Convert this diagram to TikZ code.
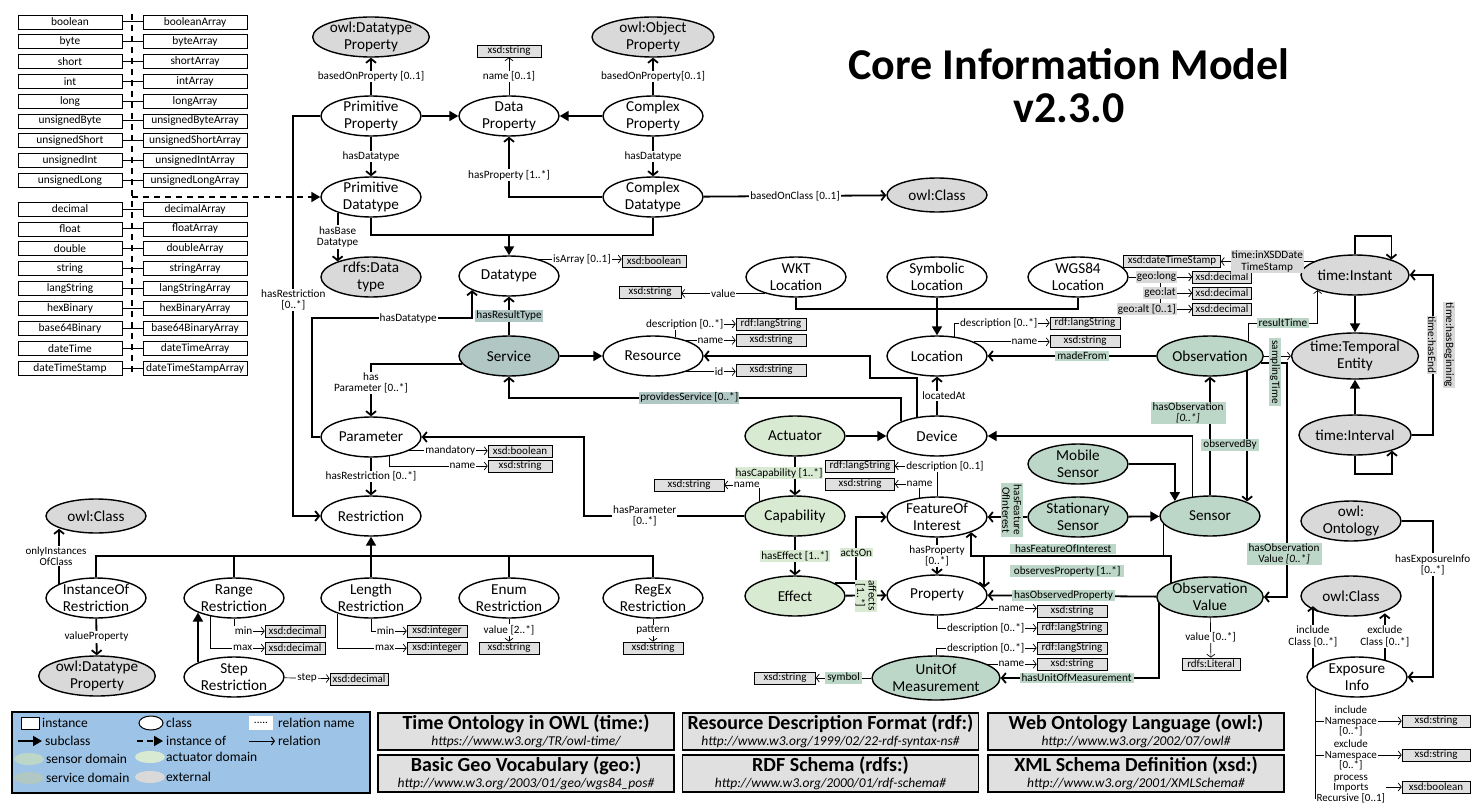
\documentclass[tikz,border=0pt]{standalone}
\usepackage{fontspec}
\setmainfont{Carlito}
\usepackage{tikz}
\usetikzlibrary{shapes.geometric, arrows.meta, calc, positioning}

\definecolor{extgray}{RGB}{217,217,217}
\definecolor{boxgray}{RGB}{224,224,224}
\definecolor{sensgreen}{RGB}{188,214,200}
\definecolor{actgreen}{RGB}{217,234,211}
\definecolor{servteal}{RGB}{176,199,196}
\definecolor{legblue}{RGB}{157,195,230}

\newcommand\clsfont{\fontsize{15.2}{17}\selectfont}
\newcommand\lblfont{\fontsize{11.2}{11.5}\selectfont}
\newcommand\nsfont{\fontsize{11}{10.2}\selectfont}
\newcommand\boxfont{\fontsize{11}{12}\selectfont}
\newcommand\typfont{\fontsize{11.4}{12}\selectfont}
\newcommand\legfont{\fontsize{13.5}{14}\selectfont}
\newcommand\reftitle[1]{{\fontsize{20}{16}\selectfont\bfseries #1}}
\newcommand\refurl[1]{{\fontsize{13.5}{16}\selectfont\itshape #1}}

\begin{document}
\begin{tikzpicture}[x=1pt, y=-1pt,
    cls/.style={ellipse, draw, line width=1.4pt, fill=white, minimum width=100pt,
        minimum height=40pt, inner xsep=0pt, inner ysep=-2pt, align=center, font=\clsfont},
    ext/.style={cls, fill=extgray},
    sens/.style={cls, fill=sensgreen},
    actr/.style={cls, fill=actgreen},
    serv/.style={cls, fill=servteal},
    lit/.style={draw, line width=0.7pt, fill=boxgray, minimum width=62pt, minimum height=12pt,
        inner sep=0pt, font=\boxfont},
    typ/.style={draw, line width=0.7pt, minimum width=104pt, minimum height=14pt,
        inner sep=0pt, font=\typfont},
    rel/.style={line width=1.8pt, -{Straight Barb[length=4pt, width=10pt]}},
    sub/.style={line width=1.8pt, -{Triangle[length=9pt, width=10pt]}},
    attr/.style={line width=0.7pt, -{Straight Barb[length=3pt, width=8pt]}},
    lbl/.style={fill=white, inner sep=1pt, font=\lblfont, align=center},
    glbl/.style={lbl, fill=extgray},
    snl/.style={lbl, fill=sensgreen, inner xsep=2pt},
    acl/.style={lbl, fill=actgreen},
    svl/.style={lbl, fill=servteal},
    tag/.style={pos=1, anchor=east, xshift=-11pt},
    leg/.style={inner sep=0pt, font=\legfont, anchor=west},
    refbox/.style={draw, line width=1.2pt, fill=boxgray, minimum width=296pt,
        minimum height=37pt, inner sep=0pt, align=center, font=\fontsize{20}{16}\selectfont}]

    \useasboundingbox (0,0) rectangle (1471,805);

    % primitive types and their arrays
    \foreach \ty [count=\i] in {boolean,byte,short,int,long,unsignedByte,unsignedShort,unsignedInt,unsignedLong}{
        \node[typ] (ta\i) at (70,{22+(\i-1)*19.8}) {\ty};
        \node[typ] (tb\i) at (195,{22+(\i-1)*19.8}) {\ty Array};
        \draw[line width=1pt] (ta\i.east) -- (tb\i.west);
    }
    \foreach \ty [count=\i] in {decimal,float,double,string,langString,hexBinary,base64Binary,dateTime,dateTimeStamp}{
        \node[typ] (tc\i) at (70,{209+(\i-1)*19.9}) {\ty};
        \node[typ] (td\i) at (195,{209+(\i-1)*19.9}) {\ty Array};
        \draw[line width=1pt] (tc\i.east) -- (td\i.west);
    }
    \coordinate (tytop) at (132,14);
    \coordinate (tybot) at (132,374);
    \coordinate (tyout) at (132,197);

    % classes
    \node[ext, minimum width=116pt] (odp) at (371,37) {owl:Datatype\\Property};
    \node[ext, minimum width=122pt] (oop) at (653,37) {owl:Object\\Property};
    \node[lit, minimum width=64pt] (dps) at (509,51) {xsd:string};
    \node[cls] (pp) at (371,116) {Primitive\\Property};
    \node[cls] (dp) at (509,116) {Data\\Property};
    \node[cls] (cp) at (653,116) {Complex\\Property};
    \node[cls] (pd) at (371,197) {Primitive\\Datatype};
    \node[cls] (cd) at (653,197) {Complex\\Datatype};
    \node[ext, minimum height=34pt] (ocl) at (937,195) {owl:Class};
    \node[ext] (rdt) at (371,277) {rdfs:Data\\type};
    \node[cls] (dt) at (509,276) {Datatype};
    \node[lit, minimum width=64pt] (dtb) at (654,261) {xsd:boolean};
    \node[cls] (wkt) at (796,277) {WKT\\Location};
    \node[lit] (wkts) at (650,292) {xsd:string};
    \node[cls] (sym) at (937,277) {Symbolic\\Location};
    \node[cls] (wgs) at (1078,277) {WGS84\\Location};
    \node[lit, minimum width=97pt] (tdts) at (1172,261) {xsd:dateTimeStamp};
    \node[lit, minimum width=59pt] (glong) at (1222,277) {xsd:decimal};
    \node[lit, minimum width=59pt] (glat) at (1222,293) {xsd:decimal};
    \node[lit, minimum width=59pt] (galt) at (1222,309) {xsd:decimal};
    \node[ext, minimum width=108pt] (tin) at (1355,275) {time:Instant};
    \node[ext, minimum width=122pt, minimum height=46pt] (tte) at (1355,356) {time:Temporal\\Entity};
    \node[ext, minimum width=108pt] (tiv) at (1355,435) {time:Interval};

    \node[serv] (serv) at (509,356) {Service};
    \node[cls] (res) at (653,356) {Resource};
    \node[lit, minimum width=70pt] (resd) at (771,324) {rdf:langString};
    \node[lit, minimum width=70pt] (resn) at (771,340) {xsd:string};
    \node[lit, minimum width=70pt] (resi) at (771,370) {xsd:string};
    \node[cls] (loc) at (937,356) {Location};
    \node[lit, minimum width=70pt] (locd) at (1085,323) {rdf:langString};
    \node[lit, minimum width=70pt] (locn) at (1085,341) {xsd:string};
    \node[sens] (obs) at (1210,356) {Observation};

    \node[cls] (par) at (371,437) {Parameter};
    \node[lit, minimum width=64pt] (parm) at (520,451) {xsd:boolean};
    \node[lit, minimum width=64pt] (parn) at (520,466) {xsd:string};
    \node[actr] (act) at (795,436) {Actuator};
    \node[cls] (dev) at (937,436) {Device};
    \node[sens] (msen) at (1078,464) {Mobile\\Sensor};
    \node[cls] (rstr) at (371,516) {Restriction};
    \node[actr] (cap) at (795,516) {Capability};
    \node[lit, minimum width=70pt] (capn) at (689,485) {xsd:string};
    \node[cls] (foi) at (937,517) {FeatureOf\\Interest};
    \node[lit, minimum width=69pt] (foid) at (860,466) {rdf:langString};
    \node[lit, minimum width=69pt] (foin) at (860,484) {xsd:string};
    \node[sens] (ssen) at (1078,517) {Stationary\\Sensor};
    \node[sens] (sen) at (1210,516) {Sensor};
    \node[ext] (oont) at (1351,521) {owl:\\Ontology};

    \node[ext, minimum height=34pt] (ocl2) at (96,516) {owl:Class};
    \node[cls] (ior) at (96,598) {InstanceOf\\Restriction};
    \node[cls] (rr) at (234,598) {Range\\Restriction};
    \node[cls] (lr) at (371,598) {Length\\Restriction};
    \node[cls] (er) at (509,598) {Enum\\Restriction};
    \node[cls] (xr) at (653,598) {RegEx\\Restriction};
    \node[actr] (eff) at (795,596) {Effect};
    \node[cls] (prop) at (937,595) {Property};
    \node[sens] (ov) at (1210,597) {Observation\\Value};
    \node[ext] (ocl3) at (1351,596) {owl:Class};
    \node[ext, minimum width=106pt] (odp2) at (97,676) {owl:Datatype\\Property};
    \node[cls] (sr) at (234,677) {Step\\Restriction};
    \node[sens, minimum width=128pt, minimum height=44pt] (uom) at (936,678) {UnitOf\\Measurement};
    \node[cls] (exi) at (1357,677) {Exposure\\Info};

    % literal boxes
    \node[lit, minimum width=60pt] (rrlo) at (295,631) {xsd:decimal};
    \node[lit, minimum width=60pt] (rrhi) at (295,648) {xsd:decimal};
    \node[lit, minimum width=60pt] (lrlo) at (437,631) {xsd:integer};
    \node[lit, minimum width=60pt] (lrhi) at (437,648) {xsd:integer};
    \node[lit, minimum width=60pt] (ers) at (509,648) {xsd:string};
    \node[lit, minimum width=60pt] (xrs) at (653,648) {xsd:string};
    \node[lit, minimum width=58pt] (srs) at (359,679) {xsd:decimal};
    \node[lit, minimum width=70pt] (propn) at (1072,611) {xsd:string};
    \node[lit, minimum width=70pt] (propd) at (1072,628) {rdf:langString};
    \node[lit, minimum width=70pt] (uomd) at (1072,648) {rdf:langString};
    \node[lit, minimum width=70pt] (uomn) at (1072,664) {xsd:string};
    \node[lit, minimum width=58pt] (lit) at (1211,664) {rdfs:Literal};
    \node[lit, minimum width=61pt] (uoms) at (785,678) {xsd:string};
    \node[lit, minimum width=68pt] (exs1) at (1436,721) {xsd:string};
    \node[lit, minimum width=68pt] (exs2) at (1436,755) {xsd:string};
    \node[lit, minimum width=68pt] (exb) at (1436,787) {xsd:boolean};

    % types are instances of Primitive Datatype
    \draw[line width=1.8pt, dash pattern=on 6pt off 5pt] (tytop) -- (tybot);
    \draw[sub, dash pattern=on 6pt off 5pt] (tyout) -- (pd.west);

    % datatype part
    \draw[rel] (pp) -- node[lbl] (lbop1) {basedOnProperty [0..1]} (odp);
    \draw[attr] (dp) -- node[lbl] (ldpn) {name [0..1]} (dps);
    \draw[sub] (pp) -- (dp);
    \draw[sub] (cp) -- (dp);
    \draw[rel] (cp) -- node[lbl] (lbop2) {basedOnProperty[0..1]} (oop);
    \draw[rel] (pp) -- node[lbl] (lhdt1) {hasDatatype} (pd);
    \draw[rel] (cp) -- node[lbl] (lhdt2) {hasDatatype} (cd);
    \draw[rel] (cd.west) -| node[lbl, pos=0.68] (lhp) {hasProperty [1..*]} (dp.south);
    \draw[rel] (cd) -- node[lbl] (lboc) {basedOnClass [0..1]} (ocl);
    \draw[rel] (pd.-155) -- node[lbl] (lhbd) {hasBase\\Datatype} (pd.-155 |- rdt.155);
    \draw[line width=1.8pt] (pd.south) -- ++(0,17) -| (cd.south);
    \draw[sub] (dt.north |- 0,234) -- (dt.north);
    \draw[attr] (dt.30) -- node[lbl, xshift=2pt] (lisa) {isArray [0..1]} (dt.30 -| dtb.west);
    \draw[rel] (pp.west) -- ++(-27,0) |- node[lbl, pos=0.23] (lhr1) {hasRestriction\\{[0..*]}} (rstr.west);
    \draw[rel] (par.west) -- ++(-8,0) |- node[lbl, pos=0.8] (lhdt3) {hasDatatype} ($(dt.-159)+(0,28)$) -- (dt.-159);

    % service and resource
    \draw[rel] (serv) -- node[svl] (lhrt) {hasResultType} (dt);
    \draw[sub] (serv) -- (res);
    \draw[rel] (serv.-170) -| node[lbl, pos=0.68] (lhpar) {has\\Parameter [0..*]} (par.north);
    \draw[rel] (dev.158) |- node[svl, pos=0.77] (lps) {providesService [0..*]} ($(serv.south)+(0,21)$) -- (serv.south);
    \draw[rel] (dev.136) |- (870,378) |- (res.east);
    \draw[attr] (res.40) |- node[lbl, tag] (lresd) {description [0..*]} (resd.west);
    \draw[attr] (res.25) -- node[lbl, tag] (lresn) {name} (res.25 -| resn.west);
    \draw[attr] (res.-25) -- node[lbl, tag] (lresi) {id} (res.-25 -| resi.west);

    % location
    \draw[rel] (dev) -- node[lbl, xshift=7pt] (lla) {locatedAt} (loc);
    \draw[sub] (sym) -- (loc);
    \draw[line width=1.8pt] (wkt.south) -- ++(0,11) -| (wgs.south);
    \draw[attr] (wkt.-152) -- node[lbl] (lval) {value} (wkt.-152 -| wkts.east);
    \draw[attr] (loc.48) |- node[lbl, tag] (llocd) {description [0..*]} (locd.west);
    \draw[attr] (loc.21) -- node[lbl, tag] (llocn) {name} (loc.21 -| locn.west);
    \coordinate (gbr) at (1160,277);
    \draw[line width=0.7pt] (gbr) -- (gbr |- galt);
    \draw[attr] (wgs.east) -- node[glbl, pos=0.77, anchor=east] (lglong) {geo:long} (glong.west);
    \draw[attr] (gbr |- glat) -- node[glbl, pos=0.53, anchor=east] (lglat) {geo:lat} (glat.west);
    \draw[attr] (gbr |- galt) -- node[glbl, pos=0.53, anchor=east] (lgalt) {geo:alt [0..1]} (galt.west);

    % time
    \draw[attr] (tin.162) -- node[glbl] (ltdts) {time:inXSDDate\\TimeStamp} (tin.162 -| tdts.east);
    \draw[sub] (tin) -- (tte);
    \draw[sub] (tiv) -- (tte);
    \draw[rel] (tin.north) -- ++(0,-18) -| (tin.23);
    \draw[rel] (tiv.south) -- ++(0,18) -| (tiv.-23);
    \draw[rel] (tiv.east) -| ($(tin.east)+(23,0)$) -- (tin.east);

    % observation and sensor
    \draw[rel] (obs) -- node[snl, pos=0.44] (lmf) {madeFrom} (loc);
    \draw[attr] (obs) -- (tte);
    \draw[attr] (obs.21) |- node[snl, pos=0.75] (lrt) {resultTime} ($(tin.-158)+(0,33)$) -- (tin.-158);
    \draw[rel] (sen) -- (obs);
    \draw[rel] (obs.-22) -- (obs.-22 |- sen.22);
    \draw[rel] (obs.-8.5) -| ($(ov.east)+(23,0)$) -- (ov.east);
    \draw[sub] (sen.132) |- (dev.east);
    \draw[sub] (msen.east) -| (sen.157);
    \draw[sub] (ssen) -- (sen);
    \draw[rel] (ssen) -- (foi);
    \draw[rel] (sen.-170) |- ($(foi.-24.5)+(0,24)$) -- (foi.-24.5);
    \draw[rel] (ov.160) |- ($(foi.-24.5)+(0,24)$) -| (prop.9.6);
    \draw[rel] (ov) -- node[snl, pos=0.86, anchor=west] (lhop) {hasObservedProperty} (prop);
    \draw[rel] (ov.-173) |- node[snl, pos=0.76] (lhuom) {hasUnitOfMeasurement} (uom.east);
    \draw[attr] (ov) -- node[lbl] (lval2) {value [0..*]} (lit);
    \draw[attr] (uom) -- node[snl] (lsym) {symbol} (uoms);
    \draw[attr] (uom.north) |- node[lbl, tag] (lud) {description [0..*]} (uomd.west);
    \draw[attr] (uom.15) -- node[lbl, tag] (lun) {name} (uom.15 -| uomn.west);

    % feature of interest and property
    \draw[rel] (foi) -- node[lbl] (lhprop) {hasProperty\\{[0..*]}} (prop);
    \draw[attr] (foi.north) |- node[lbl, pos=0.5, xshift=8pt] (lfoid) {description [0..1]} (foid.east);
    \draw[attr] (foi.132) |- node[lbl, pos=0.5] (lfoin) {name} (foin.east);
    \draw[attr] (prop.-19) -- node[lbl, tag] (lpn) {name} (prop.-19 -| propn.west);
    \draw[attr] (prop.south) |- node[lbl, tag] (lpd) {description [0..*]} (propd.west);

    % actuator
    \draw[sub] (act) -- (dev);
    \draw[rel] (act) -- node[acl, xshift=-16pt, yshift=3pt] (lhc) {hasCapability [1..*]} (cap);
    \draw[rel] (cap) -- node[acl] (lhe) {hasEffect [1..*]} (eff);
    \draw[attr] (cap.158) |- node[lbl, pos=0.5, anchor=east, xshift=2pt, inner ysep=0pt] (lcapn) {name} (capn.east);
    \draw[rel] (cap.west) -| node[lbl, pos=0.31] (lhpar2) {hasParameter\\{[0..*]}} ($(par.east)+(162,0)$) -- (par.east);
    \draw[rel] (eff.18) -| node[acl, pos=0.73] (lao) {actsOn} ($(foi.west)+(-30,0)$) -- (foi.west);
    \draw[rel] (eff) -- node[acl, rotate=-90] (laff) {affects\\{[1..*]}} (prop);

    % parameter and restrictions
    \draw[rel] (par) -- node[lbl] (lhr2) {hasRestriction [0..*]} (rstr);
    \draw[attr] (par.-20) -- node[lbl, tag] (lman) {mandatory} (par.-20 -| parm.west);
    \draw[attr] (par.-46) |- node[lbl, tag] (lparn) {name} (parn.west);
    \draw[line width=1.8pt] (ior.north) -- ++(0,-21) -| (xr.north);
    \foreach \nm in {rr,lr,er}
        \draw[line width=1.8pt] (\nm.north) -- (\nm.north |- 0,557);
    \draw[sub] (lr.north |- 0,557) -- (rstr.south);
    \draw[sub] (sr.158) -- (sr.158 |- rr.-158);
    \draw[rel] (ior.159) -- node[lbl, xshift=-3pt, font=\nsfont] (loic) {onlyInstances\\OfClass} (ior.159 |- ocl2.-160);
    \draw[rel] (ior) -- node[lbl] (lvp) {valueProperty} (odp2);
    \draw[attr] (rr.-88) |- node[lbl, tag] (trrlo) {min} (rrlo.west);
    \draw[attr] (rr.-142) |- node[lbl, tag] (trrhi) {max} (rrhi.west);
    \draw[attr] (lr.-88) |- node[lbl, tag] (tlrlo) {min} (lrlo.west);
    \draw[attr] (lr.-155) |- node[lbl, tag] (tlrhi) {max} (lrhi.west);
    \draw[attr] (er) -- node[lbl] (lenv) {value [2..*]} (ers);
    \draw[attr] (xr) -- node[lbl] (lpat) {pattern} (xrs);
    \draw[attr] (sr) -- node[lbl] (lstep) {step} (srs);

    % exposure info
    \draw[rel] (oont.east) -| node[lbl, pos=0.64] (lhei) {hasExposureInfo\\{[0..*]}} ($(exi.east)+(25,0)$) -- (exi.east);
    \draw[rel] (exi.167) -- node[lbl] (linc) {include\\Class [0..*]} (exi.167 |- ocl3.-167);
    \draw[rel] (exi.32) -- node[lbl] (lexc) {exclude\\Class [0..*]} (exi.32 |- ocl3.-32);
    \draw[line width=0.7pt] (exi.-164) -- ++(0,110) coordinate (exend);
    \draw[attr] (exi.-164 |- exs1.west) -- node[lbl, font=\nsfont, pos=0.41] (lins) {include\\Namespace\\{[0..*]}} (exs1.west);
    \draw[attr] (exi.-164 |- exs2.west) -- node[lbl, font=\nsfont, pos=0.41] (lexs) {exclude\\Namespace\\{[0..*]}} (exs2.west);
    \draw[attr] (exi.-164 |- exb.west) -- node[lbl, font=\nsfont, pos=0.41, yshift=-2pt] (lpir) {process\\Imports\\Recursive [0..1]} (exb.west);

    % labels standing beside their lines
    \node[glbl, rotate=-90] (lhend) at (1432,345) {time:hasEnd};
    \node[glbl, rotate=-90] (lhbeg) at (1449,345) {time:hasBeginning};
    \node[snl, rotate=-90] (lsamp) at (1275,372) {samplingTime};
    \node[snl] (lhobs) at (1188,413) {hasObservation\\\textit{[0..*]}};
    \node[snl] (lobby) at (1230,445) {observedBy};
    \node[snl] (lhov) at (1284,554) {hasObservation\\Value \textit{[0..*]}};
    \node[snl, rotate=-90] (lhfoi1) at (1012,510) {hasFeature\\OfInterest};
    \node[snl, anchor=west, minimum width=106pt, align=left] (lhfoi2) at (1010,549) {hasFeatureOfInterest};
    \node[snl, anchor=west, minimum width=114pt, align=left] (lobp) at (1010,571) {observesProperty [1..*]};

    % title
    \node[font=\fontsize{44}{48}\selectfont\bfseries] (ttl) at (1069,64) {Core Information Model};
    \node[font=\fontsize{44}{48}\selectfont\bfseries] (tver) at (1069,108) {v2.3.0};

    % legend
    \draw[line width=2.5pt, fill=legblue] (12,712) rectangle (370,793);
    \draw[line width=1pt, fill=white] (21,717) rectangle (39,729);
    \node[leg] (lginst) at (42,723) {instance};
    \draw[line width=1pt, fill=white] (151,723) ellipse (12pt and 7pt);
    \node[leg] (lgcls) at (166,723) {class};
    \node[fill=white, minimum width=24pt, minimum height=14pt, inner sep=0pt, font=\lblfont] (lgdots) at (261,723) {.....};
    \node[leg] (lgrn) at (278,723) {relation name};
    \draw[sub] (18,741) -- (42,741);
    \node[leg] (lgsub) at (45,741) {subclass};
    \draw[sub, dash pattern=on 6pt off 4pt] (137,741) -- (163,741);
    \node[leg] (lgio) at (166,741) {instance of};
    \draw[attr, line width=1pt] (249,741) -- (275,741);
    \node[leg] (lgrel) at (278,741) {relation};
    \fill[sensgreen] (29,759) ellipse (15pt and 6pt);
    \node[leg] (lgsd) at (46,759) {sensor domain};
    \fill[actgreen] (150,757) ellipse (15pt and 6pt);
    \node[leg] (lgad) at (166,757) {actuator domain};
    \fill[servteal] (29,778) ellipse (15pt and 6pt);
    \node[leg] (lgsvd) at (46,778) {service domain};
    \fill[extgray] (150,777) ellipse (15pt and 6pt);
    \node[leg] (lgext) at (166,777) {external};

    % namespaces
    \node[refbox] (rtime) at (526,731.5) {\reftitle{Time Ontology in OWL (time:)}\\\refurl{https://www.w3.org/TR/owl-time/}};
    \node[refbox] (rrdf) at (830.5,731.5) {\reftitle{Resource Description Format (rdf:)}\\\refurl{http://www.w3.org/1999/02/22-rdf-syntax-ns\#}};
    \node[refbox] (rowl) at (1136,731.5) {\reftitle{Web Ontology Language (owl:)}\\\refurl{http://www.w3.org/2002/07/owl\#}};
    \node[refbox] (rgeo) at (526,773.5) {\reftitle{Basic Geo Vocabulary (geo:)}\\\refurl{http://www.w3.org/2003/01/geo/wgs84\_pos\#}};
    \node[refbox] (rrdfs) at (830.5,773.5) {\reftitle{RDF Schema (rdfs:)}\\\refurl{http://www.w3.org/2000/01/rdf-schema\#}};
    \node[refbox] (rxsd) at (1136,773.5) {\reftitle{XML Schema Definition (xsd:)}\\\refurl{http://www.w3.org/2001/XMLSchema\#}};

\end{tikzpicture}
\end{document}
